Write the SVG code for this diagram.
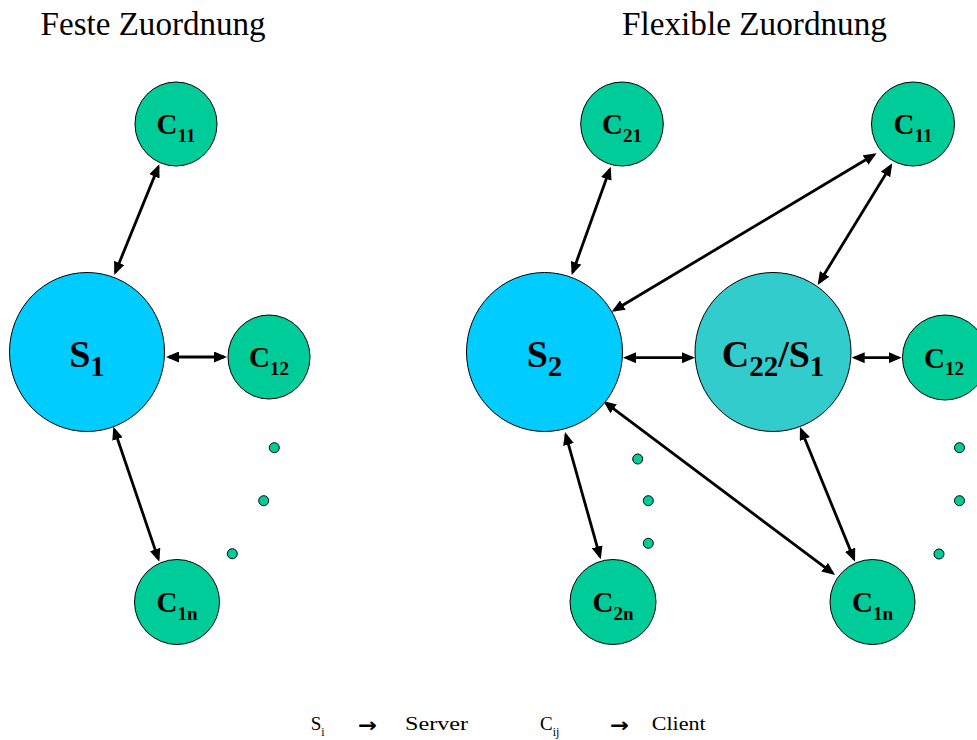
<svg xmlns="http://www.w3.org/2000/svg" width="977" height="740" viewBox="0 0 977 740">
<style>
.title{font-family:"Liberation Serif","Times New Roman",serif;font-size:34px;fill:#000}
.lbl{font-family:"Liberation Serif","Times New Roman",serif;font-weight:bold;fill:#000;text-anchor:middle}
.small{font-size:29px}
.big{font-size:38px}
.client{fill:#00CC99;stroke:#000;stroke-width:1}
.server{fill:#00CCFF;stroke:#000;stroke-width:1}
.mixed{fill:#33CCCC;stroke:#000;stroke-width:1}
.dot{fill:#00CC99;stroke:#000;stroke-width:1}
.conn line{stroke:#000;stroke-width:2.8;marker-start:url(#ah);marker-end:url(#ah)}
.leg{font-family:"Liberation Serif","Times New Roman",serif;font-size:19px;fill:#000}
.legarrow{font-family:"DejaVu Sans",sans-serif;font-weight:bold;font-size:20px;fill:#000}
</style>
<defs>
<marker id="ah" markerUnits="userSpaceOnUse" markerWidth="13" markerHeight="11" refX="10" refY="5.5" orient="auto-start-reverse">
<path d="M0,0 L13,5.5 L0,11 z" fill="#000"/>
</marker>
</defs>
<text class="title" x="40.6" y="35" textLength="225" lengthAdjust="spacingAndGlyphs">Feste Zuordnung</text>
<text class="title" x="622" y="35" textLength="265" lengthAdjust="spacingAndGlyphs">Flexible Zuordnung</text>

<g id="connectors" class="conn">
<line x1="158.2" y1="167.1" x2="115.4" y2="272.2"/>
<line x1="169" y1="357" x2="224" y2="357"/>
<line x1="114.3" y1="429.5" x2="158.3" y2="558.9"/>
<line x1="609.7" y1="169.5" x2="572.7" y2="272.2"/>
<line x1="614.3" y1="310.2" x2="874.1" y2="154.8"/>
<line x1="890.7" y1="165.9" x2="819.3" y2="282.4"/>
<line x1="626" y1="357.7" x2="692" y2="357.7"/>
<line x1="854.7" y1="357.7" x2="898.7" y2="357.7"/>
<line x1="605.7" y1="402.8" x2="832.6" y2="573.2"/>
<line x1="801.1" y1="429.8" x2="853.9" y2="558.9"/>
<line x1="565.8" y1="434.9" x2="599.9" y2="556.4"/>
</g>

<!-- Left: Feste Zuordnung -->
<g id="S1-left"><ellipse class="server" cx="87" cy="352" rx="77.5" ry="79.5"/>
<text class="lbl big" x="87" y="366.7">S<tspan font-size="29" dy="9.5">1</tspan></text></g>
<g id="C11-left"><ellipse class="client" cx="176" cy="124" rx="41" ry="42"/>
<text class="lbl small" x="176" y="134">C<tspan font-size="19" dy="7.5">11</tspan></text></g>
<g id="C12-left"><ellipse class="client" cx="269" cy="357" rx="41" ry="42"/>
<text class="lbl small" x="269" y="367">C<tspan font-size="19" dy="7.5">12</tspan></text></g>
<g id="C1n-left"><ellipse class="client" cx="177" cy="602" rx="42.5" ry="42.5"/>
<text class="lbl small" x="177" y="612">C<tspan font-size="19" dy="7.5">1n</tspan></text></g>
<g id="dots-left">
<circle class="dot" cx="274.3" cy="447.7" r="5"/>
<circle class="dot" cx="263.7" cy="500.7" r="5"/>
<circle class="dot" cx="232.3" cy="553.7" r="5"/>
</g>

<!-- Right: Flexible Zuordnung -->
<g id="S2"><ellipse class="server" cx="544.5" cy="352" rx="78" ry="79.5"/>
<text class="lbl big" x="544.5" y="366.7">S<tspan font-size="29" dy="9.5">2</tspan></text></g>
<g id="C22-S1"><ellipse class="mixed" cx="773" cy="352" rx="78" ry="79.5"/>
<text class="lbl big" x="773" y="366.7">C<tspan font-size="29" dy="9.5">22</tspan><tspan dy="-9.5">/S</tspan><tspan font-size="29" dy="9.5">1</tspan></text></g>
<g id="C21"><ellipse class="client" cx="622" cy="124" rx="41.3" ry="42"/>
<text class="lbl small" x="622" y="134">C<tspan font-size="19" dy="7.5">21</tspan></text></g>
<g id="C11-right"><ellipse class="client" cx="913" cy="124" rx="41.5" ry="42"/>
<text class="lbl small" x="913" y="134">C<tspan font-size="19" dy="7.5">11</tspan></text></g>
<g id="C12-right"><ellipse class="client" cx="945" cy="357.5" rx="42.5" ry="42.5"/>
<text class="lbl small" x="944" y="367.5">C<tspan font-size="19" dy="7.5">12</tspan></text></g>
<g id="C2n"><ellipse class="client" cx="613" cy="602" rx="43" ry="42.5"/>
<text class="lbl small" x="613" y="612">C<tspan font-size="19" dy="7.5">2n</tspan></text></g>
<g id="C1n-right"><ellipse class="client" cx="872.5" cy="602" rx="42.5" ry="42.5"/>
<text class="lbl small" x="872.5" y="612">C<tspan font-size="19" dy="7.5">1n</tspan></text></g>
<g id="dots-right">
<circle class="dot" cx="637.7" cy="459" r="5"/>
<circle class="dot" cx="648.3" cy="500.7" r="5"/>
<circle class="dot" cx="648.3" cy="543.3" r="5"/>
<circle class="dot" cx="959.5" cy="447.7" r="5"/>
<circle class="dot" cx="959.5" cy="500.7" r="5"/>
<circle class="dot" cx="939" cy="554" r="5"/>
</g>

<!-- Legend -->
<g id="legend">
<text class="leg" x="310.7" y="730">S<tspan font-size="12" dy="5.7">i</tspan></text>
<text class="legarrow" x="358" y="732" textLength="19" lengthAdjust="spacingAndGlyphs">→</text>
<text class="leg" x="405" y="730" textLength="63" lengthAdjust="spacingAndGlyphs">Server</text>
<text class="leg" x="540" y="730">C<tspan font-size="12" dy="5.7">ij</tspan></text>
<text class="legarrow" x="610" y="732" textLength="19" lengthAdjust="spacingAndGlyphs">→</text>
<text class="leg" x="651.7" y="730" textLength="54" lengthAdjust="spacingAndGlyphs">Client</text>
</g>
</svg>
